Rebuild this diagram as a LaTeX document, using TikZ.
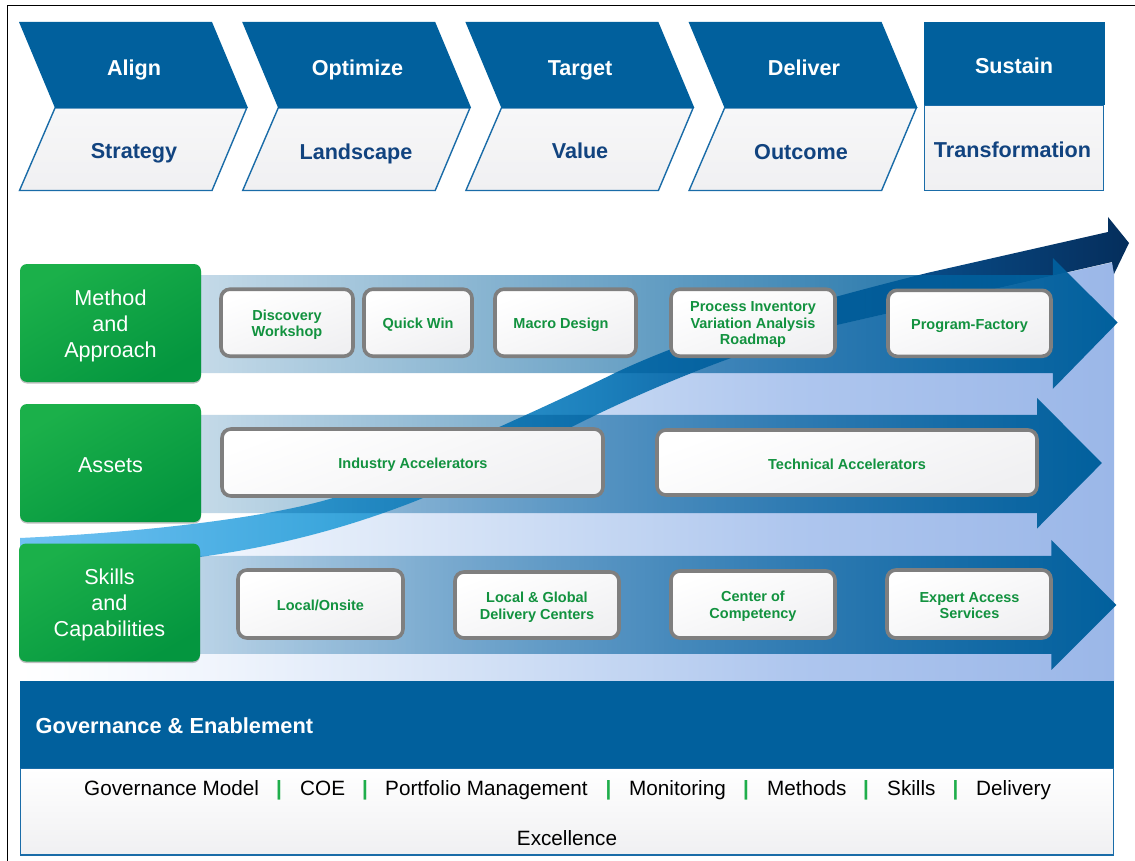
\documentclass[tikz,border=0pt]{standalone}
\usepackage{fontspec}
\setmainfont{Liberation Sans}
\usetikzlibrary{fadings,shadows,calc}
\definecolor{bandblue}{HTML}{01609D}
\definecolor{edgeblue}{HTML}{1A6CA8}
\definecolor{headtext}{HTML}{11437F}
\definecolor{labgreen}{HTML}{12923F}
\definecolor{sepgreen}{HTML}{1FAE4B}
\definecolor{greytrim}{HTML}{7F7F7F}
\definecolor{greenA}{HTML}{1BB04A}
\definecolor{greenB}{HTML}{04963F}
\definecolor{palegrey}{HTML}{F0F0F2}
\definecolor{paletop}{HTML}{F7F7F8}
\definecolor{swa}{HTML}{70C2F3}
\definecolor{swb}{HTML}{3BA6DC}
\definecolor{swc}{HTML}{1C80BC}
\definecolor{swd}{HTML}{0A60A0}
\definecolor{swe}{HTML}{084A85}
\definecolor{swf}{HTML}{052E5C}
\definecolor{ara}{HTML}{F2F6FD}
\definecolor{arb}{HTML}{DDE8F8}
\definecolor{arc}{HTML}{C6D8F3}
\definecolor{ard}{HTML}{AEC6EE}
\definecolor{are}{HTML}{9BB7E8}
\pgfdeclarehorizontalshading{swooshshade}{100bp}{%
 color(0bp)=(swa);color(25bp)=(swa);color(39bp)=(swb);color(51.1bp)=(swc);color(58.4bp)=(swd);color(66bp)=(swe);color(75bp)=(swf);color(100bp)=(swf)}
\pgfdeclarehorizontalshading{areashade}{100bp}{%
 color(0bp)=(white);color(25bp)=(white);color(33bp)=(ara);color(42bp)=(arb);color(51bp)=(arc);color(60.5bp)=(ard);color(75bp)=(are);color(100bp)=(are)}
\tikzfading[name=barfade,left color=transparent!78,right color=transparent!0]
\tikzset{
 x=1pt,y=-1pt,
 headlabel/.style={font=\fontsize{21.6}{24}\selectfont\bfseries,text=white,anchor=base,inner sep=0pt},
 sublabel/.style={font=\fontsize{21.6}{24}\selectfont\bfseries,text=headtext,anchor=base,inner sep=0pt},
 chevtop/.style={fill=bandblue,draw=none},
 chevlow/.style={top color=paletop,bottom color=palegrey,draw=edgeblue,line width=1.4pt,line join=miter},
 rowbar/.style={fill=bandblue,path fading=barfade},
 greenbox/.style={rectangle,rounded corners=7pt,top color=greenA,bottom color=greenB,shading angle=30,
   drop shadow={shadow xshift=0pt,shadow yshift=-1.5pt,opacity=.25,fill=black},
   minimum width=181pt,minimum height=118pt,inner sep=0pt},
 greentext/.style={inner sep=0pt,align=center,text=white,font=\fontsize{21.6}{26}\selectfont},
 itembox/.style={rectangle,rounded corners=9pt,draw=greytrim,line width=3.6pt,
   top color=white,bottom color=palegrey,shading angle=20,inner sep=0pt},
 itemtext/.style={inner sep=0pt,align=center,text=labgreen,font=\fontsize{14.5}{16.5}\selectfont\bfseries},
 footword/.style={font=\fontsize{20.7}{24}\selectfont,text=black,anchor=base west,inner sep=0pt},
 footsep/.style={font=\fontsize{20.7}{24}\selectfont\bfseries,text=sepgreen,anchor=base,inner sep=0pt},
}
\begin{document}
\begin{tikzpicture}
\useasboundingbox (0,0) rectangle (1135,861);
\fill[white] (0,0) rectangle (1135,861);
% frame
\draw[black,line width=1.3pt] (7.5,861) -- (7.5,5.5) -- (1135,5.5);
% pale area under the rising arrow
\path[shading=areashade] (1114,681) -- (1114,262) -- (837,325)
 .. controls (760,345) and (680,375) .. (600,413)
 .. controls (530,447) and (460,485) .. (400,507)
 .. controls (330,533) and (265,548) .. (200,557)
 .. controls (130,565) and (60,568) .. (20,570) -- (20,681) -- cycle;
% rising arrow
\path[shading=swooshshade] (20,538)
 .. controls (150,532) and (270,517) .. (333,498)
 .. controls (420,463) and (540,410) .. (617,372)
 .. controls (690,338) and (780,310) .. (927,273)
 -- (1108,232) -- (1108,217) -- (1129,243) -- (1114,274) -- (1112,262) -- (837,325)
 .. controls (760,345) and (680,375) .. (600,413)
 .. controls (530,447) and (460,485) .. (400,507)
 .. controls (330,533) and (265,548) .. (200,557)
 .. controls (130,565) and (60,568) .. (20,570) -- cycle;
% row arrows
\fill[rowbar] (190,275) -- (1054.5,275) -- (1054.5,258) -- (1119.5,322.5) -- (1054.5,389) -- (1054.5,373) -- (190,373) -- cycle;
\fill[rowbar] (190,415) -- (1039,415) -- (1039,398) -- (1104,463) -- (1039,528.5) -- (1039,513) -- (190,513) -- cycle;
\fill[rowbar] (190,556) -- (1053,556) -- (1053,540) -- (1118,605) -- (1053,670) -- (1053,654) -- (190,654) -- cycle;
% header chevrons
\foreach \i/\dx in {1/0,2/223.2,3/446.4,4/669.6}{
 \begin{scope}[xshift=\dx pt]
  \filldraw[chevlow] (55,108) -- (246.7,108) -- (212,190.5) -- (19.5,190.5) -- cycle;
  \fill[chevtop] (19,22) -- (212,22) -- (248,108) -- (55,108) -- cycle;
 \end{scope}
}
\filldraw[chevlow] (924.5,105) rectangle (1103.5,190.5);
\fill[chevtop] (924,22) rectangle (1104.5,105.5);
\node[headlabel] (align) at (134,76) {Align};
\node[headlabel] (optimize) at (357.5,76) {Optimize};
\node[headlabel] (target) at (580,76) {Target};
\node[headlabel] (deliver) at (804,76) {Deliver};
\node[headlabel] (sustain) at (1014,73.5) {Sustain};
\node[sublabel] (strategy) at (134,159) {Strategy};
\node[sublabel] (landscape) at (356,160) {Landscape};
\node[sublabel] (value) at (580,159) {Value};
\node[sublabel] (outcome) at (801,159.5) {Outcome};
\node[sublabel] (transformation) at (1012.5,157.5) {Transformation};
% green boxes
\node[greenbox] (method) at (110.5,323) {};
\node[greentext] (methodtext) at (110.5,325.5) {Method\\and\\Approach};
\node[greenbox] (assets) at (110.5,463) {};
\node[greentext] (assetstext) at (110.5,465) {Assets};
\node[greenbox] (skills) at (109.5,602.5) {};
\node[greentext] (skillstext) at (109.5,605) {Skills\\and\\Capabilities};
% item boxes
\node[itembox,minimum width=132pt,minimum height=67pt] (discovery) at (287,322.7) {};
\node[itemtext] (discoverytext) at (287,325) {Discovery\\Workshop};
\node[itembox,minimum width=108pt,minimum height=67pt] (quick) at (418,322.7) {};
\node[itemtext] (quicktext) at (418,324.5) {Quick Win};
\node[itembox,minimum width=141pt,minimum height=67pt] (macro) at (565.5,322.7) {};
\node[itemtext] (macrotext) at (561,324.5) {Macro Design};
\node[itembox,minimum width=164pt,minimum height=67pt] (process) at (753,322.7) {};
\node[itemtext] (processtext) at (753,325) {Process Inventory\\Variation Analysis\\Roadmap};
\node[itembox,minimum width=163pt,minimum height=66pt] (program) at (969.5,323.3) {};
\node[itemtext] (programtext) at (969.5,326) {Program-Factory};
\node[itembox,minimum width=381pt,minimum height=67pt] (industry) at (412.5,462.5) {};
\node[itemtext] (industrytext) at (413,464.5) {Industry Accelerators};
\node[itembox,minimum width=380pt,minimum height=65pt] (technical) at (847,462.5) {};
\node[itemtext] (technicaltext) at (847,464) {Technical Accelerators};
\node[itembox,minimum width=165pt,minimum height=68pt] (onsite) at (320.5,604) {};
\node[itemtext] (onsitetext) at (320.5,605.5) {Local/Onsite};
\node[itembox,minimum width=164pt,minimum height=66pt] (global) at (537,605) {};
\node[itemtext] (globaltext) at (537,607) {Local \& Global\\Delivery Centers};
\node[itembox,minimum width=164pt,minimum height=67pt] (center) at (753,604.5) {};
\node[itemtext] (centertext) at (753,606) {Center of\\Competency};
\node[itembox,minimum width=164pt,minimum height=68pt] (expert) at (969,604) {};
\node[itemtext] (experttext) at (969.5,605.5) {Expert Access\\Services};
% governance band
\fill[bandblue] (20,681) rectangle (1113.5,768);
\node[font=\fontsize{21.8}{24}\selectfont\bfseries,text=white,anchor=base west,inner sep=0pt] (gov) at (35.5,733) {Governance \& Enablement};
\filldraw[top color=white,bottom color=palegrey,draw=edgeblue,line width=1.4pt] (20.5,768.5) rectangle (1113.5,855);
\node[footword] (w1) at (84,795) {Governance Model};
\node[footsep] (s1) at (279,795) {|};
\node[footword] (w2) at (300,795) {COE};
\node[footsep] (s2) at (365,795) {|};
\node[footword] (w3) at (385,795) {Portfolio Management};
\node[footsep] (s3) at (608.5,795) {|};
\node[footword] (w4) at (629,795) {Monitoring};
\node[footsep] (s4) at (746,795) {|};
\node[footword] (w5) at (767,795) {Methods};
\node[footsep] (s5) at (866,795) {|};
\node[footword] (w6) at (887,795) {Skills};
\node[footsep] (s6) at (955.5,795) {|};
\node[footword] (w7) at (976,795) {Delivery};
\node[footword,anchor=base] (w8) at (567,845) {Excellence};
\end{tikzpicture}
\end{document}
